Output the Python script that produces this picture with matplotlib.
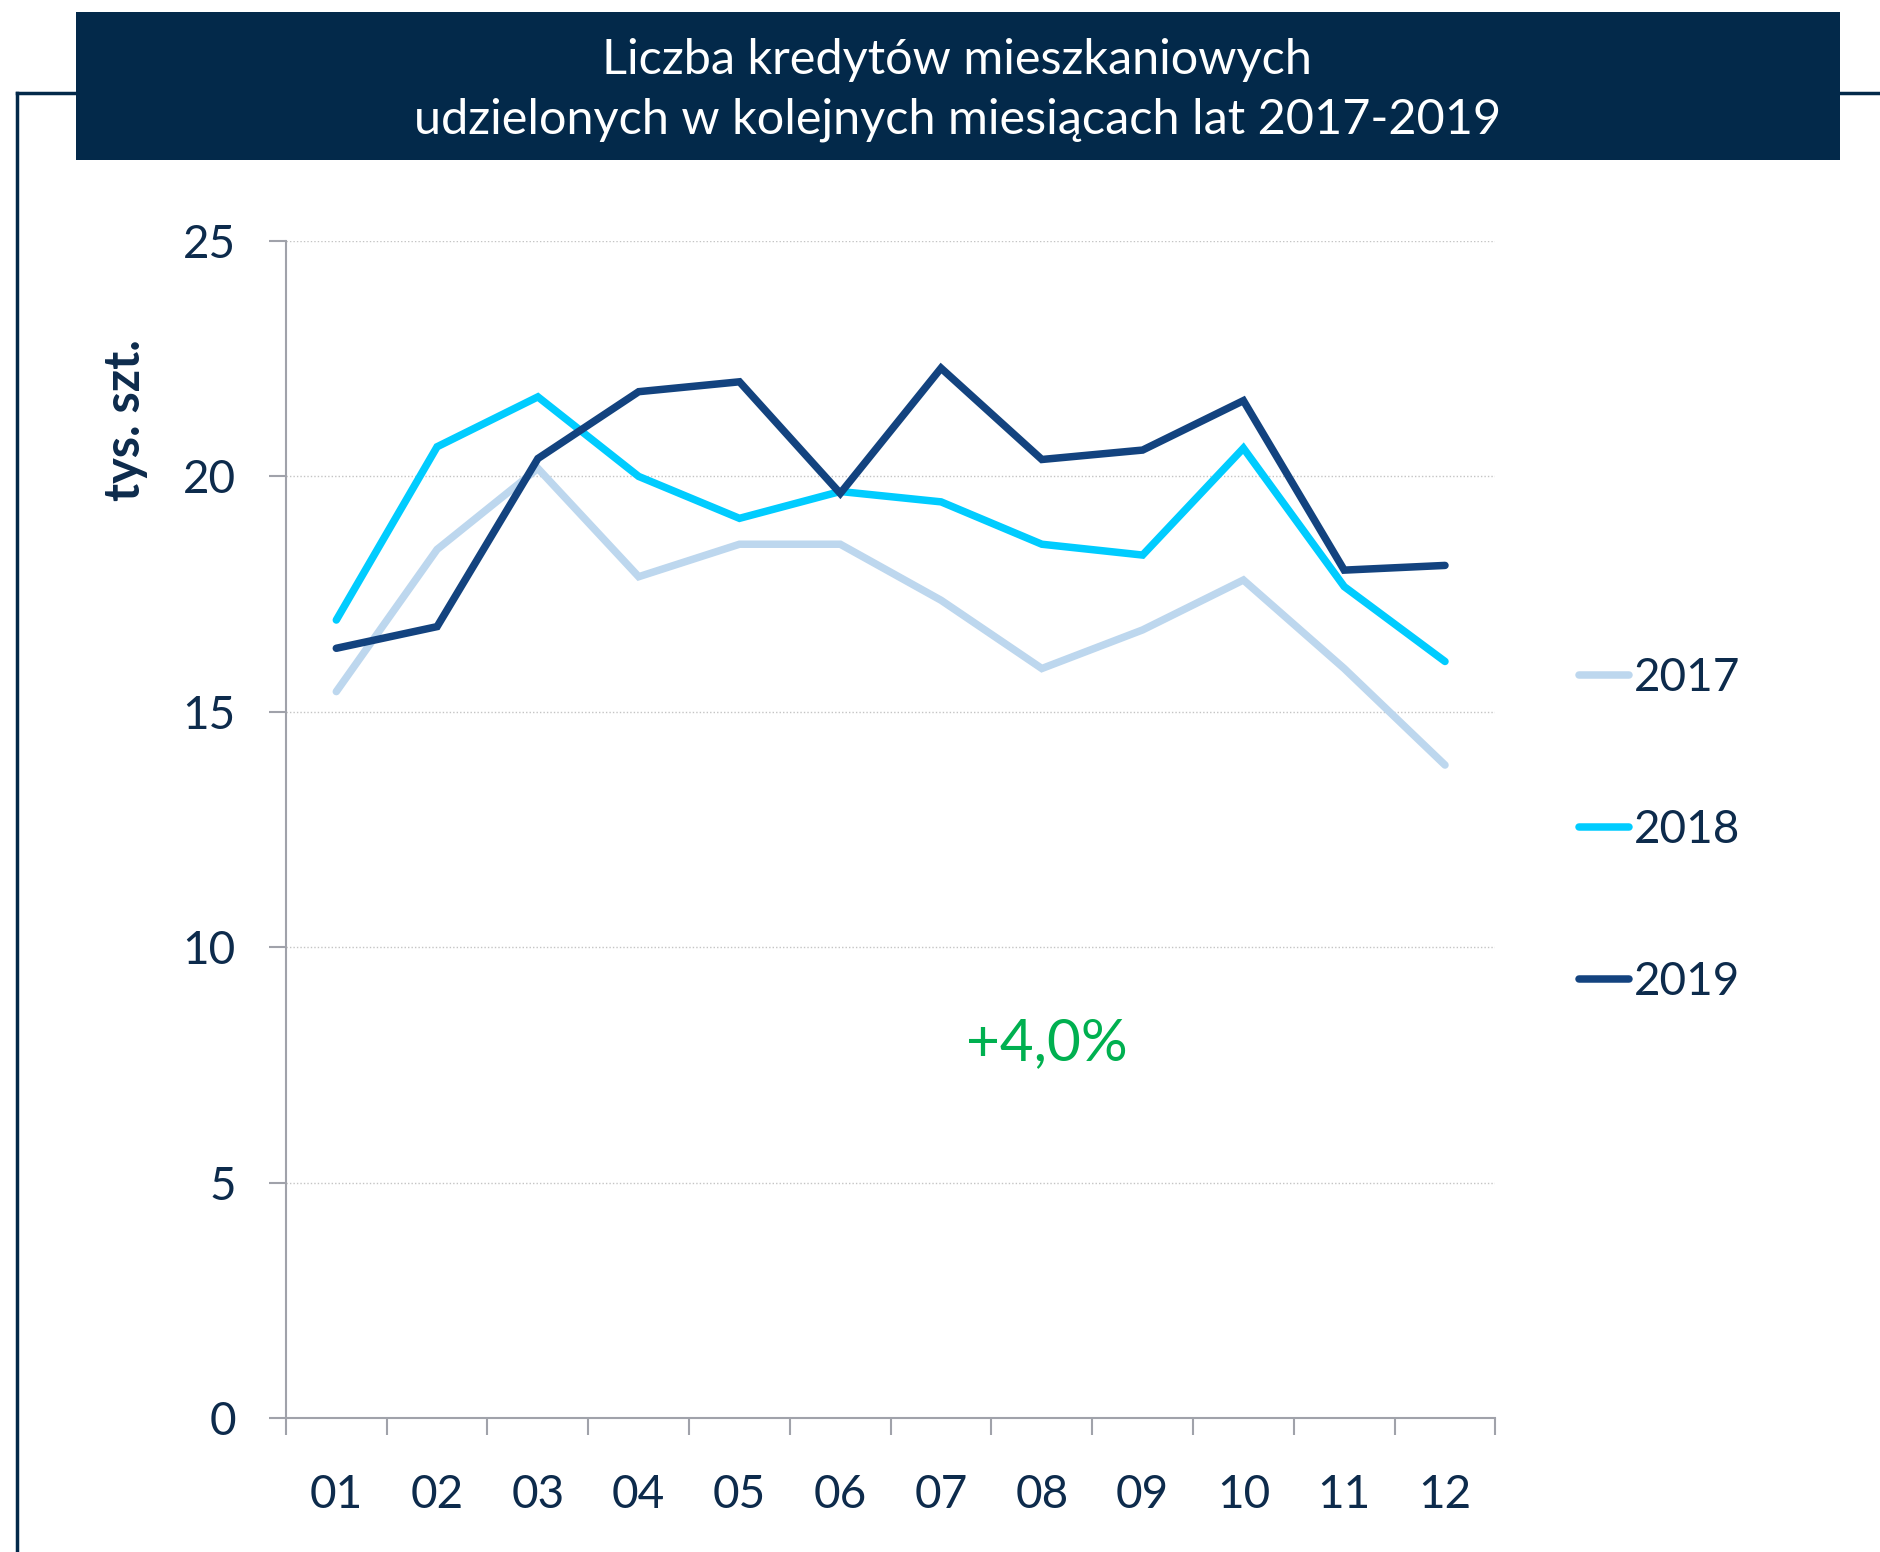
import numpy as np
import matplotlib.pyplot as plt
from matplotlib.patches import Rectangle
from matplotlib.lines import Line2D

# dane (tys. szt.)
miesiace = ['01', '02', '03', '04', '05', '06', '07', '08', '09', '10', '11', '12']
lata = ['2017', '2018', '2019']
r2017 = [15.43, 18.45, 20.17, 17.87, 18.56, 18.56, 17.37, 15.92, 16.74, 17.80, 15.92, 13.87]
r2018 = [16.95, 20.63, 21.69, 20.00, 19.11, 19.68, 19.46, 18.56, 18.33, 20.60, 17.66, 16.07]
r2019 = [16.35, 16.81, 20.38, 21.80, 22.01, 19.64, 22.30, 20.36, 20.56, 21.61, 18.01, 18.11]
kolory = ['#BDD7EE', '#00CCFF', '#13437F']

granat = '#03294A'
tekst = '#0D2B4C'
szary = '#A0A2AA'

plt.rcParams['font.family'] = ['Lato', 'DejaVu Sans']

fig = plt.figure(figsize=(18.81, 15.52), dpi=100)
ax = fig.add_axes([0.152, 0.0863, 0.643, 0.7584])

x = np.arange(1, len(miesiace) + 1)
for seria, kolor, rok in zip([r2017, r2018, r2019], kolory, lata):
    ax.plot(x, seria, color=kolor, lw=5.4, label=rok,
            solid_joinstyle='miter', solid_capstyle='round')

ax.set_xlim(0.5, 12.5)
ax.set_ylim(0, 25)
ax.set_yticks([0, 5, 10, 15, 20, 25])
ax.set_xticks(x)
ax.set_xticklabels(miesiace)
ax.set_xticks(np.arange(0.5, 13, 1), minor=True)

ax.grid(axis='y', color='#C4C4C4', linestyle=(0, (1, 1.5)), lw=1.0)
ax.set_axisbelow(True)
for s in ['top', 'right']:
    ax.spines[s].set_visible(False)
for s in ['left', 'bottom']:
    ax.spines[s].set_color(szary)
    ax.spines[s].set_linewidth(1.5)

ax.tick_params(axis='y', length=12, width=1.5, color=szary, pad=24,
               labelsize=33, labelcolor=tekst)
ax.tick_params(axis='x', which='major', length=0, pad=40,
               labelsize=33, labelcolor=tekst)
ax.tick_params(axis='x', which='minor', length=12, width=1.5, color=szary)

# opis osi
ax.text(-0.133, 0.848, 'tys. szt.', transform=ax.transAxes, rotation=90,
        fontsize=35, fontweight='bold', color=tekst, ha='center', va='center')

ax.text(8.05, 7.95, '+4,0%', fontsize=42, color='#00B050', ha='center', va='center')

leg = ax.legend(loc='center left', bbox_to_anchor=(1.035, 0.5), frameon=False,
                fontsize=33, handlelength=1.1, handletextpad=0.1,
                labelspacing=2.4, labelcolor=tekst)

# naglowek i ramka
fig.add_artist(Rectangle((0.0404, 0.8969), 0.9378, 0.0954, transform=fig.transFigure,
                         facecolor=granat, edgecolor='none'))
fig.text(0.509, 0.942, 'Liczba kredytów mieszkaniowych\nudzielonych w kolejnych miesiącach lat 2017-2019',
         ha='center', va='center', color='white', fontsize=35, linespacing=1.45)
yl = 1 - 93 / 1552
fig.add_artist(Line2D([0.0093, 0.0093], [0, yl], transform=fig.transFigure, color=granat, lw=2.5))
fig.add_artist(Line2D([0.0093, 0.0404], [yl, yl], transform=fig.transFigure, color=granat, lw=2.5))
fig.add_artist(Line2D([0.978, 1.0], [yl, yl], transform=fig.transFigure, color=granat, lw=2.5))

fig.savefig('out.png', dpi=100)
